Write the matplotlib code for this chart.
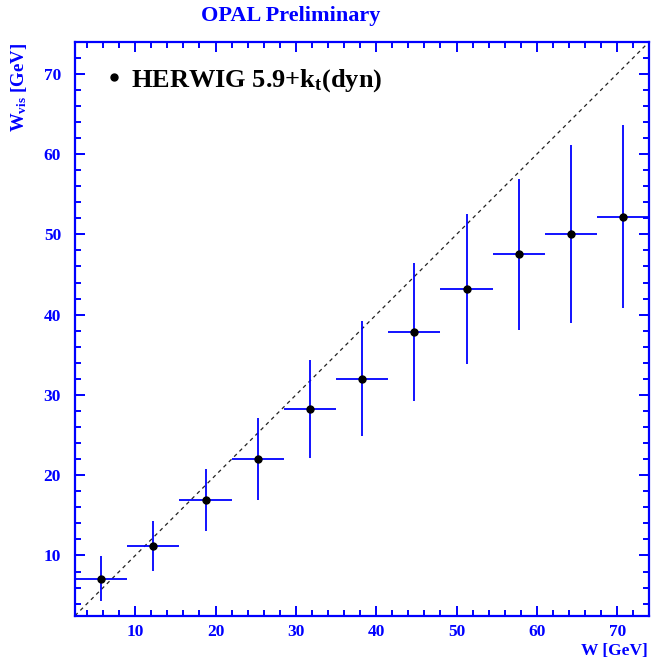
import matplotlib
matplotlib.use('Agg')
import matplotlib.pyplot as plt
from matplotlib.lines import Line2D
from matplotlib.ticker import MultipleLocator

# Data
w_true = [5.75, 12.25, 18.75, 25.25, 31.75, 38.25, 44.75, 51.25, 57.75, 64.25, 70.75]
w_bin_half = [3.25] * 11
w_vis = [7.1, 11.2, 16.9, 22.0, 28.2, 32.0, 37.8, 43.2, 47.5, 50.0, 52.2]
w_vis_err = [2.8, 3.15, 3.9, 5.15, 6.1, 7.15, 8.6, 9.35, 9.4, 11.1, 11.4]
w_min, w_max = 2.5, 74.0

blue = '#0000ff'
serif = 'Liberation Serif'
plt.rcParams['font.family'] = serif
plt.rcParams['font.weight'] = 'bold'
plt.rcParams['mathtext.fontset'] = 'custom'
plt.rcParams['mathtext.rm'] = 'Liberation Serif:bold'
plt.rcParams['mathtext.it'] = 'Liberation Serif:bold'
plt.rcParams['mathtext.bf'] = 'Liberation Serif:bold'

fig = plt.figure(figsize=(6.51, 6.64), dpi=100)
ax = fig.add_axes([75/651, 1 - 615.7/664, (649.3 - 75)/651, (615.7 - 41.7)/664])

# diagonal W_vis = W
ax.axline((0, 0), (1, 1), color='#222222', lw=0.9, dashes=(3, 3))

ax.errorbar(w_true, w_vis, xerr=w_bin_half, yerr=w_vis_err, fmt='o',
            color='black', ms=5.0, ecolor=blue, elinewidth=1.3, capsize=0, zorder=3)

ax.set_xlim(w_min, w_max)
ax.set_ylim(w_min, w_max)

for a in (ax.xaxis, ax.yaxis):
    a.set_major_locator(MultipleLocator(10))
    a.set_minor_locator(MultipleLocator(2))
ax.tick_params(which='both', direction='in', top=True, right=True, color=blue,
               width=1.4, labelcolor=blue, labelsize=12.5)
ax.tick_params(which='major', length=7.5)
ax.tick_params(which='minor', length=4.3)
ax.tick_params(axis='x', pad=6)
ax.tick_params(axis='y', pad=10)
for lab in ax.get_xticklabels() + ax.get_yticklabels():
    lab.set_fontweight('bold')
for s in ax.spines.values():
    s.set_color(blue)
    s.set_linewidth(1.6)

handle = Line2D([], [], marker='o', color='black', ls='none', ms=5.0)
ax.legend([handle], [r'HERWIG 5.9+k$_{\rm t}$(dyn)'], loc='upper left',
          bbox_to_anchor=(0.017, 0.988), frameon=False, handletextpad=0.25,
          handlelength=0.8, borderaxespad=0.3,
          prop={'family': serif, 'weight': 'bold', 'size': 19})

fig.text(291/651, 1 - 16/664, 'OPAL Preliminary', ha='center', va='center',
         color=blue, fontsize=16, fontweight='bold')
fig.text(648/651, 1 - 651/664, 'W [GeV]', ha='right', va='center',
         color=blue, fontsize=12.5, fontweight='bold')
fig.text(19/651, 1 - 43/664, r'W$_{\rm vis}$ [GeV]', ha='center', va='top',
         rotation=90, color=blue, fontsize=13.5, fontweight='bold')

fig.savefig('out.png', dpi=100)
